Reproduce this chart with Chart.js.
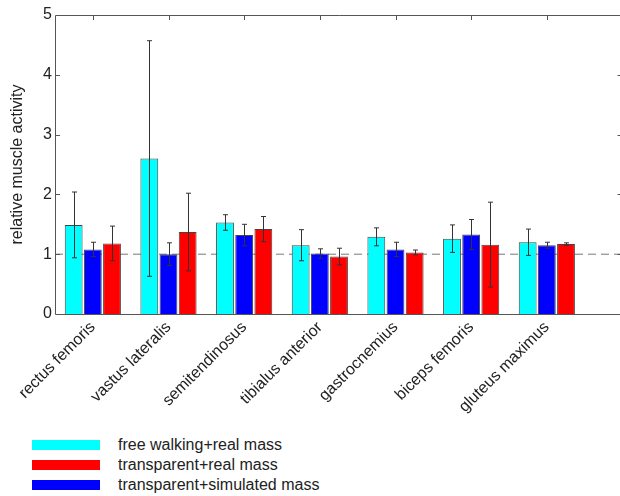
<!DOCTYPE html>
<html>
<head>
<meta charset="utf-8">
<script src="https://cdn.jsdelivr.net/npm/chart.js@4.4.1/dist/chart.umd.min.js"></script>
<style>
  html, body { margin: 0; padding: 0; background: #fff; overflow: hidden; }
  #wrap { position: relative; width: 640px; height: 430px; }
  #legend { position: absolute; left: 32px; top: 435px; font: 16px "Liberation Sans", Arial, sans-serif; color: #222; }
  #legend .row { display: flex; align-items: center; height: 20px; }
  #legend .box { width: 68px; height: 10px; margin-right: 18px; }
</style>
</head>
<body>
<div id="wrap"><canvas id="chart"></canvas></div>
<div id="legend"></div>
<script>
// muscles on the x axis
const categories = [
  "rectus femoris",
  "vastus lateralis",
  "semitendinosus",
  "tibialus anterior",
  "gastrocnemius",
  "biceps femoris",
  "gluteus maximus",
];

// mean relative activity + error (half-length of the bar) per condition
const freeWalking = [1.49, 2.60, 1.53, 1.15, 1.29, 1.26, 1.20];
const freeWalkingErr = [0.55, 1.97, 0.13, 0.26, 0.15, 0.23, 0.22];
const simulatedMass = [1.08, 1.00, 1.32, 1.01, 1.08, 1.33, 1.15];
const simulatedMassErr = [0.12, 0.19, 0.18, 0.08, 0.12, 0.25, 0.05];
const realMass = [1.18, 1.37, 1.42, 0.96, 1.03, 1.16, 1.17];
const realMassErr = [0.29, 0.65, 0.21, 0.14, 0.04, 0.71, 0.02];

const yTicks = [0, 1, 2, 3, 4, 5];
const referenceLevel = 1;
// legend lists datasets in this order (cyan, red, blue)
const legendOrder = [0, 2, 1];

Chart.defaults.font.family = '"Liberation Sans", Arial, sans-serif';
Chart.defaults.color = "#222";

/** Dashed reference line at y = 1, behind the bars. */
const refLine = {
  id: "refLine",
  beforeDatasetsDraw(chart) {
    const { ctx, chartArea, scales } = chart;
    const y = scales.y.getPixelForValue(referenceLevel);
    ctx.save();
    ctx.strokeStyle = "#777";
    ctx.lineWidth = 1;
    ctx.setLineDash([8, 5]);
    ctx.beginPath();
    ctx.moveTo(chartArea.left, y);
    ctx.lineTo(chartArea.right, y);
    ctx.stroke();
    ctx.restore();
  },
};

/** Vertical error bars with small caps, read from dataset.errorBars. */
const errorBars = {
  id: "errorBars",
  afterDatasetsDraw(chart) {
    const { ctx } = chart;
    const y = chart.scales.y;
    ctx.save();
    ctx.strokeStyle = "#333";
    ctx.lineWidth = 1;
    chart.data.datasets.forEach((ds, i) => {
      const meta = chart.getDatasetMeta(i);
      meta.data.forEach((bar, j) => {
        const v = ds.data[j];
        const e = ds.errorBars[j];
        const top = y.getPixelForValue(v + e);
        const bot = y.getPixelForValue(v - e);
        const x = Math.round(bar.x) + 0.5;
        ctx.beginPath();
        ctx.moveTo(x, top);
        ctx.lineTo(x, bot);
        ctx.moveTo(x - 2.5, top);
        ctx.lineTo(x + 2.5, top);
        ctx.moveTo(x - 2.5, bot);
        ctx.lineTo(x + 2.5, bot);
        ctx.stroke();
      });
    });
    ctx.restore();
  },
};

/** Box round the plot with inward ticks, like the original figure. */
const frame = {
  id: "frame",
  afterDraw(chart) {
    const { ctx, chartArea: a, scales } = chart;
    ctx.save();
    ctx.strokeStyle = "#555";
    ctx.lineWidth = 1;
    ctx.beginPath();
    ctx.rect(a.left + 0.5, a.top + 0.5, a.right - a.left, a.bottom - a.top);
    scales.x.ticks.forEach((t) => {
      const x = Math.round(scales.x.getPixelForValue(t.value)) + 0.5;
      ctx.moveTo(x, a.top);
      ctx.lineTo(x, a.top + 5);
    });
    yTicks.slice(1, -1).forEach((v) => {
      const yy = Math.round(scales.y.getPixelForValue(v)) + 0.5;
      ctx.moveTo(a.left, yy);
      ctx.lineTo(a.left + 5, yy);
      ctx.moveTo(a.right, yy);
      ctx.lineTo(a.right - 5, yy);
    });
    ctx.stroke();
    ctx.restore();
  },
};

/** HTML legend stacked one item per row, under the chart. */
const htmlLegend = {
  id: "htmlLegend",
  afterUpdate(chart) {
    const box = document.getElementById("legend");
    box.innerHTML = "";
    legendOrder.forEach((i) => {
      const ds = chart.data.datasets[i];
      const row = document.createElement("div");
      row.className = "row";
      const sw = document.createElement("span");
      sw.className = "box";
      sw.style.background = ds.backgroundColor;
      const label = document.createElement("span");
      label.textContent = ds.label;
      row.append(sw, label);
      box.appendChild(row);
    });
  },
};

const barStyle = {
  borderColor: "#444",
  borderWidth: 1,
  categoryPercentage: 0.76,
  barPercentage: 0.93,
};

new Chart(document.getElementById("chart"), {
  type: "bar",
  data: {
    labels: categories.map((_, i) => i + 1),
    datasets: [
      { label: "free walking+real mass", data: freeWalking, errorBars: freeWalkingErr, backgroundColor: "#00ffff", ...barStyle },
      { label: "transparent+simulated mass", data: simulatedMass, errorBars: simulatedMassErr, backgroundColor: "#0000ff", ...barStyle },
      { label: "transparent+real mass", data: realMass, errorBars: realMassErr, backgroundColor: "#ff0000", ...barStyle },
    ],
  },
  options: {
    responsive: true,
    maintainAspectRatio: false,
    animation: false,
    layout: { padding: { top: 15, right: 17.5, left: 0, bottom: 0 } },
    scales: {
      x: {
        type: "linear",
        min: 0.5,
        max: 8,
        offset: false,
        grid: { display: false, drawTicks: false, offset: false },
        border: { display: false },
        afterBuildTicks: (scale) => {
          scale.ticks = categories.map((_, i) => ({ value: i + 1 }));
        },
        afterFit: (scale) => {
          scale.height = 116;
        },
        ticks: {
          autoSkip: false,
          minRotation: 45,
          maxRotation: 45,
          padding: 4,
          font: { size: 16 },
          callback: (v) => categories[v - 1] ?? "",
        },
      },
      y: {
        min: 0,
        max: 5,
        grid: { display: false, drawTicks: false },
        border: { display: false },
        afterBuildTicks: (scale) => {
          scale.ticks = yTicks.map((v) => ({ value: v }));
        },
        afterFit: (scale) => {
          scale.width = 55;
        },
        ticks: { padding: 3, font: { size: 16 } },
        title: {
          display: true,
          text: "relative muscle activity",
          font: { size: 16 },
          padding: { top: 8, bottom: 0 },
        },
      },
    },
    plugins: {
      legend: { display: false },
      tooltip: { enabled: false },
    },
  },
  plugins: [refLine, errorBars, frame, htmlLegend],
});
</script>
</body>
</html>
